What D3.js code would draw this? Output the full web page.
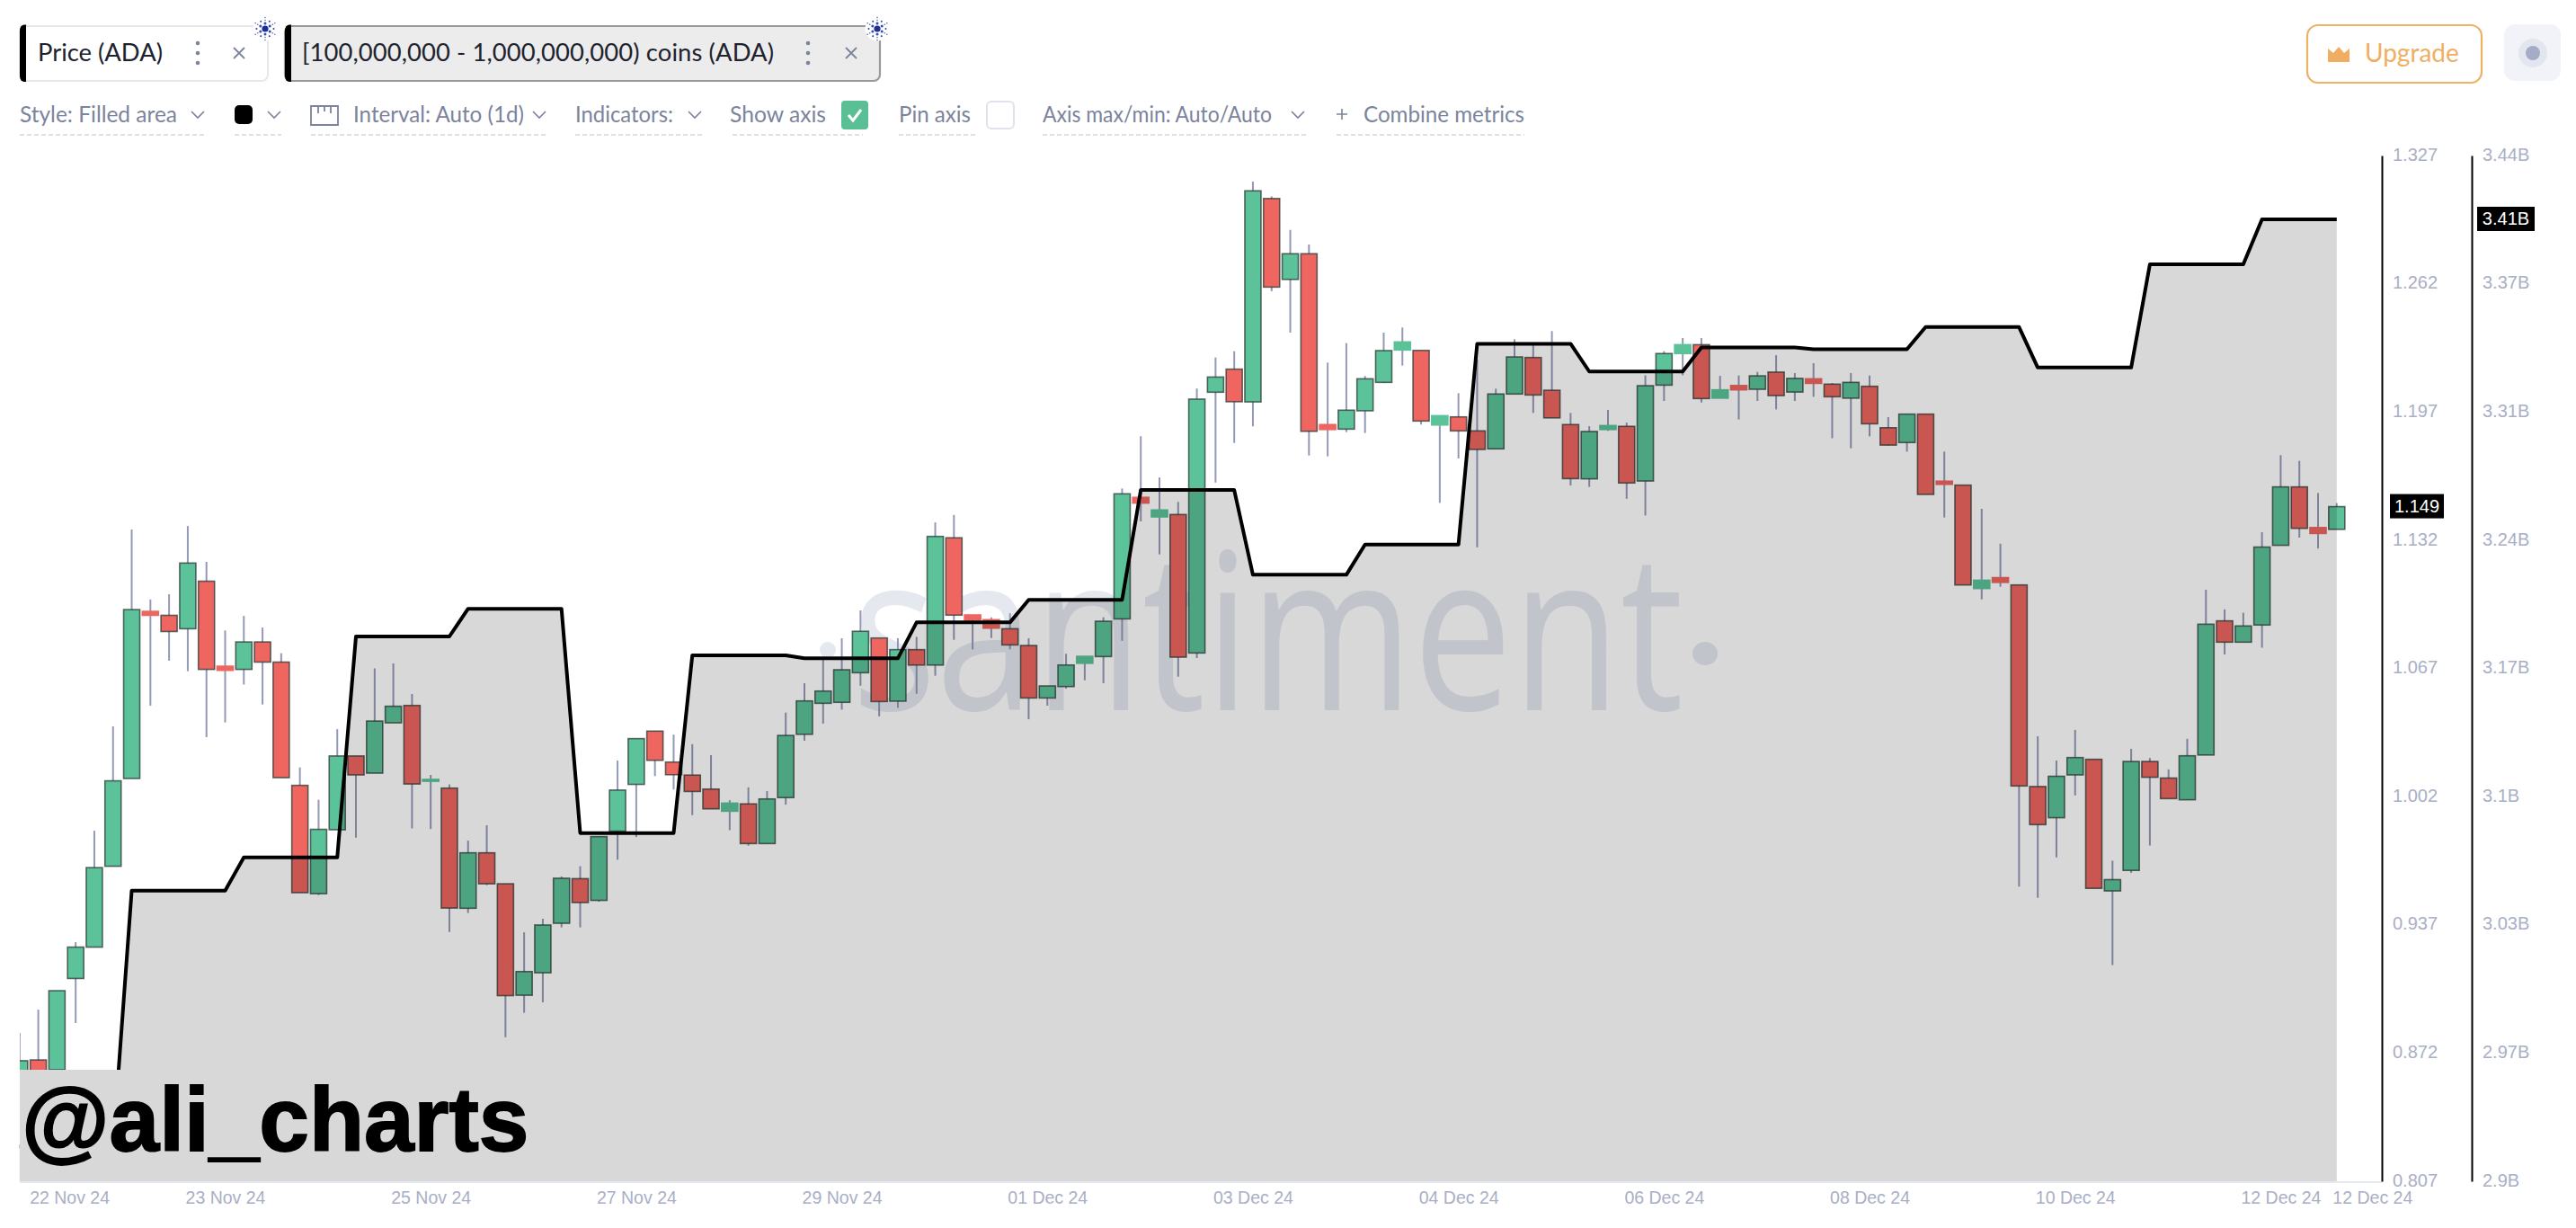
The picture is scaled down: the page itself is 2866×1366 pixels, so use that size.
<!DOCTYPE html>
<html><head><meta charset="utf-8">
<script src="https://cdn.jsdelivr.net/npm/d3@7/dist/d3.min.js"></script>
<style>html,body{margin:0;padding:0;background:#fff;overflow:hidden}svg{display:block}</style>
</head><body><svg id="c" width="2866" height="1366"></svg>
<script>
const open=[.8453,.8685,.8635,.9098,.9257,.9667,1.0112,1.0959,1.0939,1.0871,1.1112,1.0681,1.0665,1.0804,1.0702,1.0077,.9528,.9852,1.0226,1.0139,1.0394,1.0482,1.0098,1.0063,.9454,.9735,.9578,.9013,.9127,.9378,.9604,.9494,.9845,1.0082,1.0352,1.0195,1.0129,1.0058,.9946,.9983,.9782,1.0015,1.0336,1.0493,1.0498,1.0648,1.0824,1.0504,1.0765,1.0687,1.1332,1.0941,1.0917,1.0871,1.0786,1.0520,1.0578,1.0696,1.0730,1.0921,1.1537,1.1438,1.1450,1.0748,1.2070,1.2187,1.2021,1.3052,1.2642,1.2772,1.1906,1.1883,1.1976,1.2120,1.2284,1.2282,1.1904,1.1945,1.1874,1.1783,1.2061,1.2246,1.2080,1.1906,1.1631,1.1881,1.1897,1.1620,1.2106,1.2266,1.2311,1.2040,1.2104,1.2085,1.2172,1.2071,1.2138,1.2111,1.2040,1.2100,1.1890,1.1815,1.1959,1.1619,1.1599,1.1075,1.1130,1.1093,1.0071,.9913,1.0130,1.0209,.9542,.9646,1.0198,1.0114,1.0004,1.0231,1.0911,1.0803,1.0890,1.1294,1.1590,1.1384,1.1375];
const high=[.8822,.8940,.9036,.9282,.9847,1.0376,1.1374,1.1019,1.1046,1.1392,1.1210,1.0862,1.0936,1.0877,1.0747,1.0168,1.0004,1.0362,1.0226,1.0670,1.0695,1.0540,1.0130,1.0082,.9797,.9875,.9578,.9332,.9401,.9615,.9667,.9817,1.0203,1.0314,1.0352,1.0334,1.0286,1.0230,1.0002,1.0067,1.0048,1.0446,1.0595,1.0716,1.0823,1.0964,1.0824,1.0823,1.0830,1.1410,1.1448,1.0941,1.0929,1.0949,1.0823,1.0581,1.0744,1.0731,1.0929,1.1582,1.1847,1.1638,1.1514,1.2088,1.2246,1.2278,1.3138,1.3063,1.2893,1.2819,1.2220,1.2319,1.2152,1.2372,1.2398,1.2282,1.1951,1.2065,1.2235,1.2088,1.2339,1.2311,1.2380,1.1965,1.1898,1.1980,1.1916,1.2156,1.2278,1.2345,1.2345,1.2153,1.2155,1.2173,1.2258,1.2167,1.2217,1.2117,1.2167,1.2155,1.1944,1.1959,1.1959,1.1769,1.1599,1.1479,1.1302,1.1093,1.0326,1.0203,1.0358,1.0209,.9695,1.0262,1.0216,1.0158,1.0313,1.1069,1.0969,1.0952,1.1360,1.1751,1.1722,1.1559,1.1508];
const low=[.8407,.8476,.8544,.8872,.9257,.9667,1.0112,1.0481,1.0709,1.0656,1.0321,1.0396,1.0588,1.0487,1.0116,.9533,.9521,.9852,.9812,1.0139,1.0394,.9859,.9856,.9334,.9430,.9571,.8800,.8924,.8977,.9357,.9357,.9487,.9700,.9815,1.0124,1.0056,.9926,.9958,.9850,.9771,.9782,.9979,1.0303,1.0390,1.0461,1.0582,1.0427,1.0470,1.0541,1.0633,1.0815,1.0766,1.0824,1.0766,1.0412,1.0481,1.0567,1.0610,1.0595,1.0810,1.1415,1.1248,1.0628,1.0722,1.1612,1.1813,1.1897,1.2582,1.2372,1.1749,1.1745,1.1868,1.1863,1.2117,1.2205,1.1906,1.1509,1.1734,1.1284,1.1783,1.2061,1.1965,1.1940,1.1597,1.1590,1.1874,1.1530,1.1445,1.2026,1.2156,1.2018,1.2040,1.1932,1.2026,1.1983,1.2026,1.2047,1.1837,1.1786,1.1846,1.1799,1.1769,1.1552,1.1435,1.1093,1.1020,1.1084,.9564,.9507,.9712,1.0026,.9555,.9166,.9633,.9772,1.0010,1.0004,1.0231,1.0741,1.0803,1.0775,1.1294,1.1333,1.1278,1.1375];
const close=[.8681,.8567,.9036,.9257,.9660,1.0100,1.0968,1.0939,1.0857,1.1204,1.0665,1.0660,1.0804,1.0702,1.0116,.9533,.9854,1.0226,1.0130,1.0403,1.0478,1.0084,1.0107,.9455,.9735,.9578,.9011,.9133,.9369,.9606,.9483,.9817,1.0053,1.0314,1.0204,1.0131,1.0046,.9958,.9987,.9782,1.0008,1.0330,1.0505,1.0555,1.0663,1.0858,1.0502,1.0765,1.0687,1.1339,1.0940,1.0915,1.0874,1.0789,1.0520,1.0581,1.0687,1.0731,1.0909,1.1555,1.1508,1.1473,1.0727,1.2035,1.2147,1.2022,1.3091,1.2603,1.2772,1.1872,1.1881,1.1979,1.2138,1.2281,1.2325,1.1924,1.1951,1.1874,1.1780,1.2061,1.2249,1.2056,1.1940,1.1632,1.1871,1.1901,1.1610,1.2103,1.2266,1.2311,1.2038,1.2082,1.2082,1.2153,1.2053,1.2140,1.2115,1.2047,1.2120,1.1910,1.1802,1.1959,1.1552,1.1603,1.1093,1.1117,1.1106,1.0074,.9878,1.0123,1.0218,.9555,.9599,1.0198,1.0118,1.0010,1.0227,1.0894,1.0803,1.0885,1.1285,1.1590,1.1380,1.1354,1.1490];
const holdings=[2.9185,3.0530,3.0705,3.1868,3.2014,3.0833,3.1769,3.1753,3.1942,3.2061,3.2639,3.2193,3.2352,3.3409,3.3263,3.3390,3.3380,3.3497,3.3284,3.3827,3.4064];
const candlesPerDay=6;
const priceTicks=[1.327,1.262,1.197,1.132,1.067,1.002,.937,.872,.807];
const holdingTicks=[3.44,3.3725,3.305,3.2375,3.17,3.1025,3.035,2.9675,2.9];
const holdingTickLabels=["3.44B","3.37B","3.31B","3.24B","3.17B","3.1B","3.03B","2.97B","2.9B"];
const dateTickIndex=[2.66,11,22,33,44,55,66,77,88,99,110,121,125.9];
const dateTickLabels=["22 Nov 24","23 Nov 24","25 Nov 24","27 Nov 24","29 Nov 24","01 Dec 24","03 Dec 24","04 Dec 24","06 Dec 24","08 Dec 24","10 Dec 24","12 Dec 24","12 Dec 24"];

const svg=d3.select("#c");
const FONT="'Lato','Noto Sans',sans-serif", AX="'Liberation Sans',Arial,sans-serif";
const x=d3.scaleLinear().domain([0,124]).range([21.8,2599.8]);
const yP=d3.scaleLinear().domain([.807,1.327]).range([1314,173]);
const yH=d3.scaleLinear().domain([2.9,3.44]).range([1314,173]);

svg.append("defs").append("clipPath").attr("id","plot").append("rect").attr("x",22).attr("y",150).attr("width",2628).attr("height",1165);

// watermark
const wm=svg.append("g");
wm.append("text").attr("x",948).attr("y",790).attr("font-family","'Open Sans',sans-serif").attr("font-weight",400)
 .attr("font-size",243).attr("fill","#e6e8f0").attr("textLength",925).attr("lengthAdjust","spacingAndGlyphs").text("santiment");
wm.append("ellipse").attr("cx",1897).attr("cy",727).attr("rx",14).attr("ry",13).attr("fill","#e6e8f0");
wm.append("circle").attr("cx",921).attr("cy",723).attr("r",9).attr("fill","#e6e8f0");

// candles
const data=d3.range(open.length).map(i=>({i,o:open[i],h:high[i],l:low[i],c:close[i]}));
const g=svg.append("g").attr("clip-path","url(#plot)");
g.selectAll("line.w").data(data).join("line").attr("class","w")
 .attr("x1",d=>x(d.i)).attr("x2",d=>x(d.i)).attr("y1",d=>yP(d.h)).attr("y2",d=>yP(d.l))
 .attr("stroke","#9499b5").attr("stroke-width",2);
g.selectAll("rect.b").data(data).join("rect").attr("class","b")
 .attr("x",d=>x(d.i)-9).attr("width",18)
 .attr("y",d=>yP(Math.max(d.o,d.c))).attr("height",d=>Math.max(2,yP(Math.min(d.o,d.c))-yP(Math.max(d.o,d.c))))
 .attr("fill",d=>d.c>=d.o?"#5bc299":"#ee665f")
 .attr("stroke",d=>Math.abs(d.o-d.c)<.0053?(d.c>=d.o?"#5bc299":"#ee665f"):"#2c3a36")
 .attr("stroke-opacity",d=>Math.abs(d.o-d.c)<.0053?1:.75).attr("stroke-width",1.6);

// holdings area + line
const pts=data.map(d=>({i:d.i,v:holdings[Math.floor(d.i/candlesPerDay)]}));
svg.append("path").datum(pts).attr("fill","#000").attr("fill-opacity",.153)
 .attr("d",d3.area().x(d=>x(d.i)).y0(yH(2.9)).y1(d=>yH(d.v)));
svg.append("path").datum(pts).attr("fill","none").attr("stroke","#000").attr("stroke-width",4).attr("stroke-linejoin","round")
 .attr("d",d3.line().x(d=>x(d.i)).y(d=>yH(d.v)));

// attribution box
svg.append("rect").attr("x",22).attr("y",1190).attr("width",578).attr("height",124).attr("fill","#d8d8d8");
svg.append("text").attr("x",24).attr("y",1280).attr("font-family",AX).attr("font-weight",700).attr("font-size",100).attr("fill","#000")
 .attr("stroke","#000").attr("stroke-width",1.8).text("@ali_charts");

// axes
svg.append("line").attr("x1",22).attr("x2",2650).attr("y1",1315).attr("y2",1315).attr("stroke","#e6e8f0").attr("stroke-width",2);
function styleAxis(a,black){
 a.attr("font-family",AX).attr("font-size",20);
 a.selectAll(".tick text").attr("fill","#a9afc5").attr("dy","0.26em");
 a.selectAll(".tick line").remove();
 const d=a.select(".domain");
 if(black) d.attr("stroke","#000").attr("stroke-width",2); else d.remove();
}
const ax1=svg.append("g").attr("transform","translate(2650,0)")
 .call(d3.axisRight(yP).tickValues(priceTicks).tickSize(0).tickPadding(12).tickFormat(d3.format(".3f")));
styleAxis(ax1,true);
const ax2=svg.append("g").attr("transform","translate(2750,0)")
 .call(d3.axisRight(yH).tickValues(holdingTicks).tickSize(0).tickPadding(12).tickFormat((d,i)=>holdingTickLabels[i]));
styleAxis(ax2,true);
const ax3=svg.append("g").attr("transform","translate(0,1321)")
 .call(d3.axisBottom(x).tickValues(dateTickIndex).tickSize(0).tickPadding(4).tickFormat((d,i)=>dateTickLabels[i]));
ax3.attr("font-family",AX).attr("font-size",19.5);
ax3.selectAll(".tick text").attr("fill","#a9afc5");
ax3.select(".domain").remove();

// last value tags
function tag(xx,w,yy,t){
 svg.append("rect").attr("x",xx).attr("y",yy-14).attr("width",w).attr("height",27).attr("fill","#000");
 svg.append("text").attr("x",xx+w/2).attr("y",yy+6.5).attr("text-anchor","middle").attr("font-family",AX).attr("font-size",20).attr("fill","#fff").text(t);
}
tag(2659,60,yP(close[close.length-1]),d3.format(".3f")(close[close.length-1]));
tag(2756,64,yH(holdings[holdings.length-1]),"3.41B");

// toolbar
const T=svg.append("g");
function tab(x0,x1,fill,stroke,sw,label,tx,tw,dotX,xX){
 T.append("rect").attr("x",x0).attr("y",29).attr("width",x1-x0).attr("height",61).attr("rx",7).attr("fill",fill).attr("stroke",stroke).attr("stroke-width",sw);
 T.append("path").attr("d",`M${x0+7},27.5H${x0+5}a5,6 0 0 0 -5,6V85a5,6 0 0 0 5,6H${x0+7}Z`).attr("fill","#000");
 T.append("text").attr("x",tx).attr("y",68).attr("font-family",FONT).attr("font-size",27.4).attr("fill","#20232e").attr("textLength",tw).text(label);
 [48,59,70].forEach(y=>T.append("circle").attr("cx",dotX).attr("cy",y).attr("r",2.3).attr("fill","#7c839c"));
 T.append("path").attr("d",`M${xX-6},53L${xX+6},65M${xX+6},53L${xX-6},65`).attr("stroke","#7c839c").attr("stroke-width",1.8);
 cardano(x1-3,32);
}
function cardano(cx,cy){
 const c=T.append("g").attr("fill","#3b4cb0");
 c.append("circle").attr("cx",cx).attr("cy",cy).attr("r",13.5).attr("fill","#fff");
 c.append("circle").attr("cx",cx).attr("cy",cy).attr("r",3.6).attr("fill","#1c2f98");
 [[6,6,1.5],[9.5,6,1],[9.5,12,.7],[12.5,6,.7]].forEach(([r,n,s])=>d3.range(n).forEach(k=>{
  const a=k/n*2*Math.PI+Math.PI/2+(r===9.5&&n===6?Math.PI/6:0);
  c.append("circle").attr("cx",cx+r*Math.cos(a)).attr("cy",cy+r*Math.sin(a)).attr("r",s);
 }));
}
tab(22,298,"#fff","#e6e8ee",2,"Price (ADA)",42,139,220,266);
tab(317,979,"#ececec","#9a9a9a",2.2,"[100,000,000 - 1,000,000,000) coins (ADA)",336,525,899,947);

function label(t,xx,w){T.append("text").attr("x",xx).attr("y",136).attr("font-family",FONT).attr("font-size",24.5).attr("fill","#7c839c").attr("textLength",w).attr("lengthAdjust","spacingAndGlyphs").text(t);}
function chev(xx){T.append("path").attr("d",`M${xx-7},124L${xx},131L${xx+7},124`).attr("fill","none").attr("stroke","#7c839c").attr("stroke-width",1.6);}
function under(a,b){T.append("line").attr("x1",a).attr("x2",b).attr("y1",150).attr("y2",150).attr("stroke","#d3d6e0").attr("stroke-width",1.6).attr("stroke-dasharray","5 3");}
label("Style: Filled area",22,175);chev(220);under(22,229);
T.append("rect").attr("x",261).attr("y",117).attr("width",20).attr("height",21).attr("rx",5).attr("fill","#000");chev(305);under(261,313);
T.append("path").attr("d","M346,118H376V139H346ZM354,118V126M361,118V124M368,118V126").attr("fill","none").attr("stroke","#7c839c").attr("stroke-width",1.8);
label("Interval: Auto (1d)",393,190);chev(600);under(346,607);
label("Indicators:",640,109);chev(773);under(640,781);
label("Show axis",812,107);under(815,960);
T.append("rect").attr("x",936).attr("y",112).attr("width",30).attr("height",32).attr("rx",4).attr("fill","#5bbf95");
T.append("path").attr("d","M944,128L949,134L958,122").attr("fill","none").attr("stroke","#fff").attr("stroke-width",3);
label("Pin axis",1000,80);under(1000,1085);
T.append("rect").attr("x",1098).attr("y",113).attr("width",30).attr("height",30).attr("rx",5).attr("fill","#fff").attr("stroke","#dfe2ea").attr("stroke-width",2);
label("Axis max/min: Auto/Auto",1160,255);chev(1444);under(1160,1455);
T.append("path").attr("d","M1487,127H1499M1493,121V133").attr("stroke","#7c839c").attr("stroke-width",1.6);
label("Combine metrics",1517,179);under(1487,1696);

// upgrade + avatar
T.append("rect").attr("x",2567).attr("y",28).attr("width",194).attr("height",64).attr("rx",12).attr("fill","#fff").attr("stroke","#eeb266").attr("stroke-width",2.2);
T.append("path").attr("d","M2590,54L2596,59L2602,52L2608,59L2614,54V69H2590Z").attr("fill","#f0ae63");
T.append("text").attr("x",2631).attr("y",69).attr("font-family",FONT).attr("font-size",28).attr("fill","#f0ae63").text("Upgrade");
T.append("rect").attr("x",2786).attr("y",27).attr("width",63).attr("height",63).attr("rx",12).attr("fill","#f1f3f9");
T.append("circle").attr("cx",2818).attr("cy",59).attr("r",16).attr("fill","#e3e6ef");
T.append("circle").attr("cx",2818).attr("cy",59).attr("r",8).attr("fill","#a5acc6");
</script></body></html>
